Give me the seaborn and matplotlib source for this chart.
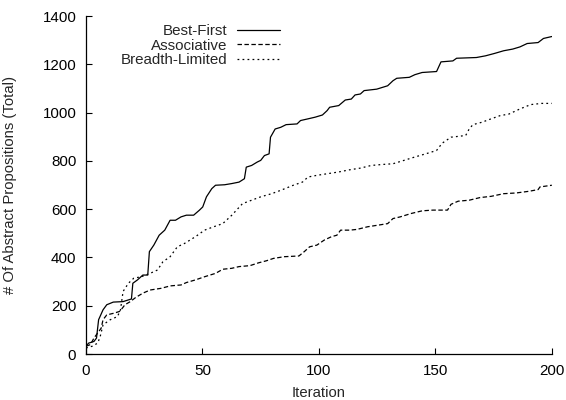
import numpy as np
import pandas as pd
import matplotlib
matplotlib.use("Agg")
import matplotlib.pyplot as plt
import seaborn as sns

# values
best_x = [0, 1.1, 3.4, 4.5, 5.4, 7.3, 8.9, 11.7, 15.9, 19.5, 20.1, 22.1, 24.4, 26.5, 27.2,
          29.1, 31.4, 33.8, 36.1, 38.4, 40.8, 43.1, 46.2, 48.6, 50.1, 51.7, 54, 55.6, 59.5,
          62.6, 65.7, 68, 68.8, 71.1, 73.5, 75, 76.6, 78.6, 79.2, 81.2, 83.6, 85.9, 90.6,
          92.1, 95.3, 98.4, 101.5, 103.5, 104.6, 108.5, 111.3, 113.9, 115.5, 117.8, 119.4,
          124.8, 129.5, 131.8, 133.4, 138.8, 141.2, 144.3, 150.5, 152.4, 157.5, 159.1,
          167.6, 171.5, 175.4, 179.3, 183.2, 186.3, 189.4, 194.1, 196.4, 200]
best_y = [32, 45, 52, 66, 142, 183, 204, 215, 217, 228, 293, 307, 327, 327, 424,
          451, 492, 513, 554, 554, 568, 575, 575, 595, 609, 651, 685, 699, 701,
          706, 712, 726, 774, 781, 795, 802, 822, 829, 898, 932, 939, 950, 953,
          967, 974, 981, 990, 1008, 1022, 1029, 1052, 1056, 1073, 1077, 1091,
          1097, 1111, 1132, 1142, 1146, 1157, 1166, 1170, 1210, 1214, 1225,
          1228, 1235, 1245, 1256, 1263, 1272, 1286, 1290, 1307, 1315]

assoc_x = [0, 1.9, 3.4, 5, 6.5, 7.3, 8.9, 12, 14.3, 15.6, 16.7, 19, 21.3, 24.4, 27.5,
           32.2, 36.1, 40.8, 43.1, 47, 50.9, 55.6, 58.7, 62.6, 65.7, 70.4, 74.2, 77.4,
           80.5, 85.1, 91.4, 93.7, 96, 99.1, 102.3, 105.4, 107.7, 109.3, 113.2, 116.3,
           120.9, 125.6, 129.5, 131.8, 134.9, 139.6, 144.3, 148.9, 155.2, 156.7, 159.8,
           164.5, 169.2, 173.9, 179.3, 184.7, 190.2, 194.1, 194.9, 200]
assoc_y = [32, 39, 66, 87, 107, 142, 162, 169, 176, 190, 204, 217, 234, 252, 265,
           272, 282, 286, 296, 307, 320, 334, 351, 355, 362, 366, 378, 386,
           396, 403, 406, 424, 444, 451, 472, 486, 492, 513, 513, 516,
           527, 534, 540, 561, 568, 582, 593, 596, 596, 620, 633,
           637, 648, 653, 664, 667, 674, 681, 692, 699]

breadth_x = [0, 2.6, 5, 6.1, 7.3, 10.4, 13.5, 14.8, 15.9, 18.2, 20.5, 23.7, 27.5, 30.7,
             33, 36.1, 39.2, 42.3, 47, 50.9, 54.8, 58.7, 62.6, 67.2, 71.1, 75, 79.7,
             83.6, 89, 92.9, 95.3, 99.1, 103.8, 108.5, 113.2, 117.8, 122.5, 127.2,
             131.8, 136.5, 141.2, 145.8, 150.5, 152.9, 156.7, 163, 164.5, 166.1, 170,
             173.9, 177.7, 181.6, 186.3, 190.9, 195.6, 200]
breadth_y = [25, 32, 45, 73, 121, 142, 155, 183, 259, 293, 314, 320, 334, 348,
             382, 403, 444, 458, 486, 513, 527, 540, 575, 623, 637, 651, 664,
             678, 699, 712, 733, 740, 747, 754, 763, 770, 781, 785,
             788, 802, 816, 829, 843, 873, 898, 905, 932, 950, 960,
             974, 987, 994, 1015, 1033, 1038, 1038]

labels = ["Best-First", "Associative", "Breadth-Limited"]

df = pd.concat([
    pd.DataFrame({"Iteration": best_x, "Total": best_y, "method": labels[0]}),
    pd.DataFrame({"Iteration": assoc_x, "Total": assoc_y, "method": labels[1]}),
    pd.DataFrame({"Iteration": breadth_x, "Total": breadth_y, "method": labels[2]}),
])

sns.set_theme(style="ticks")
plt.rcParams["font.family"] = ["Liberation Sans", "DejaVu Sans"]
plt.rcParams["lines.scale_dashes"] = False

fig = plt.figure(figsize=(5.66, 4.0), dpi=100)
ax = fig.add_axes([0.152, 0.115, 0.823, 0.845])

dash_styles = {labels[0]: "", labels[1]: (3.2, 1.8), labels[2]: (1.3, 2.3)}
sns.lineplot(data=df, x="Iteration", y="Total", hue="method", style="method",
             palette=["black"] * 3, dashes=dash_styles, estimator=None,
             linewidth=0.9, ax=ax)

ax.set_xlim(0, 200)
ax.set_ylim(0, 1400)
ax.set_xticks([0, 50, 100, 150, 200])
ax.set_yticks(range(0, 1401, 200))
ax.tick_params(direction="in", length=4, width=0.8, pad=7, labelsize=10.9,
               colors="black")
for side in ["top", "right"]:
    ax.spines[side].set_visible(False)
for side in ["left", "bottom"]:
    ax.spines[side].set_color("black")
    ax.spines[side].set_linewidth(0.9)

ax.set_xlabel("Iteration", fontsize=10.7)
ax.set_ylabel("# Of Abstract Propositions (Total)", fontsize=10.7)
ax.xaxis.set_label_coords(0.5, -0.095)
ax.yaxis.set_label_coords(-0.148, 0.5)

leg = ax.legend(loc="upper right", bbox_to_anchor=(0.416, 0.976), frameon=False,
                markerfirst=False, handlelength=2.8, handletextpad=0.65,
                labelspacing=0.03, borderpad=0, borderaxespad=0, fontsize=10.9)
for line in leg.get_lines():
    line.set_linewidth(0.9)

fig.savefig("out.png", dpi=100)
